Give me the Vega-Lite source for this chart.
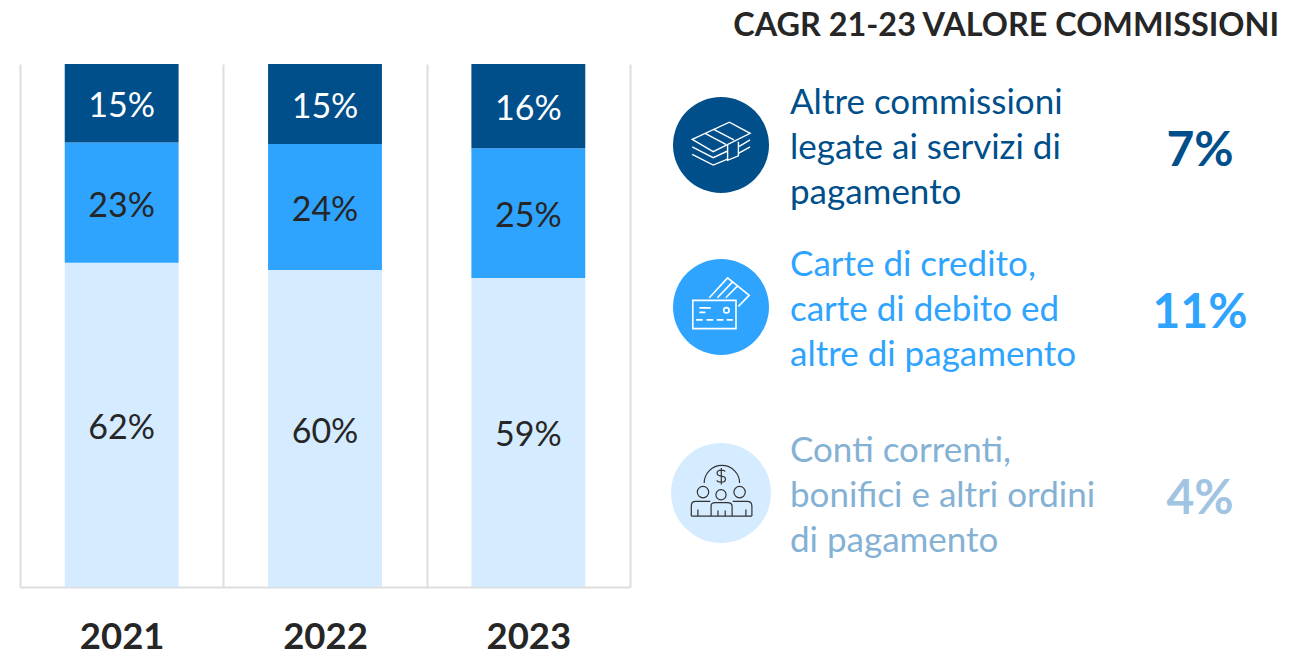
{
"$schema":"https://vega.github.io/schema/vega-lite/v6.json",
"padding":{"left":20,"top":9,"right":0,"bottom":0},
"background":"white",
"config":{"view":{"stroke":null},"font":"Lato"},
"spacing":20,
"bounds":"flush",
"hconcat":[
{"width":610,"height":523,
"data":{"values":[
{"anno":"2021","serie":"Conti correnti","quota":62,"etichetta":"62%","ordine":1},
{"anno":"2021","serie":"Carte","quota":23,"etichetta":"23%","ordine":2},
{"anno":"2021","serie":"Altre commissioni","quota":15,"etichetta":"15%","ordine":3},
{"anno":"2022","serie":"Conti correnti","quota":60.6,"etichetta":"60%","ordine":1},
{"anno":"2022","serie":"Carte","quota":24.1,"etichetta":"24%","ordine":2},
{"anno":"2022","serie":"Altre commissioni","quota":15.3,"etichetta":"15%","ordine":3},
{"anno":"2023","serie":"Conti correnti","quota":59.1,"etichetta":"59%","ordine":1},
{"anno":"2023","serie":"Carte","quota":24.8,"etichetta":"25%","ordine":2},
{"anno":"2023","serie":"Altre commissioni","quota":16.1,"etichetta":"16%","ordine":3}
]},
"encoding":{
"x":{"field":"anno","type":"nominal","scale":{"paddingInner":0,"paddingOuter":0},
"axis":{"title":null,"labelAngle":0,"labelFont":"Lato","labelFontSize":36.5,"labelFontWeight":"bold","labelColor":"#262626","labelPadding":32,"ticks":false,"grid":true,"gridColor":"#dedede","gridWidth":2,"tickBand":"extent","domainColor":"#dedede","domainWidth":2}}
},
"layer":[
{"mark":{"type":"bar","width":{"band":0.56}},
"encoding":{
"y":{"field":"quota","type":"quantitative","stack":"zero","scale":{"domain":[0,100],"nice":false},"axis":null},
"order":{"field":"ordine"},
"color":{"field":"serie","type":"nominal","legend":null,"scale":{"domain":["Conti correnti","Carte","Altre commissioni"],"range":["#d5ebff","#2fa4ff","#004f8a"]}}
}},
{"mark":{"type":"text","fontSize":34,"font":"Lato","dy":4},
"encoding":{
"y":{"field":"quota","type":"quantitative","stack":"zero","bandPosition":0.5},
"order":{"field":"ordine"},
"text":{"field":"etichetta"},
"color":{"condition":{"test":"datum.serie==='Altre commissioni'","value":"#ffffff"},"value":"#262626"}
}}
]},
{"width":629,"height":523,
"title":{"text":"CAGR 21-23 VALORE COMMISSIONI","anchor":"end","font":"Lato","fontSize":32.4,"fontWeight":"bold","color":"#262626","offset":22},
"data":{"values":[
{"riga":1,"serie":"Altre commissioni","descrizione":"Altre commissioni\nlegate ai servizi di\npagamento","cagr":"7%"},
{"riga":2,"serie":"Carte","descrizione":"Carte di credito,\ncarte di debito ed\naltre di pagamento","cagr":"11%"},
{"riga":3,"serie":"Conti correnti","descrizione":"Conti correnti,\nbonifici e altri ordini\ndi pagamento","cagr":"4%"}
]},
"encoding":{
"y":{"field":"riga","type":"quantitative","axis":null,"scale":{"domain":[1,2,3],"range":[81,243,429]}}
},
"layer":[
{"mark":{"type":"circle","opacity":1},
"encoding":{
"x":{"datum":1,"type":"quantitative","axis":null,"scale":{"domain":[1,2,3],"range":[71,140,550]}},
"size":{"condition":{"test":"datum.riga===3","value":10000},"value":9216},
"color":{"field":"serie","type":"nominal","legend":null,"scale":{"domain":["Conti correnti","Carte","Altre commissioni"],"range":["#d5ebff","#2fa4ff","#004f8a"]}}
}},
{"transform":[{"filter":"datum.riga===1"}],
"mark":{"type":"point","filled":false,"opacity":1,"size":3600,"stroke":"#ffffff","strokeWidth":1.4,
"shape":"M-.96 -.19L.28 -.76L.97 -.39L-.26 .22ZM-.53 -.39L.16 -.02M-.26 -.53L.43 -.17M.22 0L.22 .51L.58 .36L.58 -.11M-.96 .06L-.26 .42L.22 .2M.58 .06L.97 -.17M-.96 .31L-.26 .67L.22 .47M.58 .28L.97 .06"},
"encoding":{"x":{"datum":1,"type":"quantitative"}}},
{"transform":[{"filter":"datum.riga===2"}],
"mark":{"type":"point","filled":false,"opacity":1,"size":3600,"stroke":"#ffffff","strokeWidth":1.6,
"shape":"M-.94 -.22L.5 -.22L.5 .72L-.94 .72ZM-.72 .03L-.34 .03M-.72 .18L-.52 .18M.27 .11A.09 .09 0 1 0 .09 .11A.09 .09 0 1 0 .27 .11M-.83 .43L-.61 .43M-.48 .43L-.26 .43M-.14 .43L.08 .43M.19 .43L.39 .43M-.39 -.31L.22 -.97L.94 -.39L.58 -.02M-.12 -.31L.38 -.83M.16 -.31L.57 -.72"},
"encoding":{"x":{"datum":1,"type":"quantitative"}}},
{"transform":[{"filter":"datum.riga===3"}],
"mark":{"type":"point","filled":false,"opacity":1,"size":3600,"stroke":"#333333","strokeWidth":1.2,
"shape":"M-.56 -.33A.59 .59 0 1 1 .62 -.33M-.79 -.03A.19 .19 0 1 0 -.41 -.03A.19 .19 0 1 0 -.79 -.03M-.17 .06A.17 .17 0 1 0 .17 .06A.17 .17 0 1 0 -.17 .06M.43 -.03A.19 .19 0 1 0 .81 -.03A.19 .19 0 1 0 .43 -.03M-.99 .77L-.99 .44Q-.99 .28 -.85 .28L-.36 .28M-.33 .77L-.33 .42Q-.33 .32 -.19 .32L.2 .32Q.37 .32 .37 .44L.37 .77M.39 .28L.87 .28Q1.03 .28 1.03 .44L1.03 .77M-.99 .77L1.03 .77M-.77 .55L-.77 .77M-.1 .58L-.1 .77M.14 .58L.14 .77M.83 .55L.83 .77M.01 -.83L.01 -.28M.14 -.72Q.12 -.76 .01 -.76Q-.13 -.76 -.13 -.66Q-.13 -.58 .01 -.56Q.15 -.54 .15 -.46Q.15 -.36 .01 -.36Q-.12 -.36 -.14 -.42"},
"encoding":{"x":{"datum":1,"type":"quantitative"}}},
{"mark":{"type":"text","align":"left","baseline":"middle","font":"Lato","fontSize":35,"lineBreak":"\n","lineHeight":45,"dy":-42},
"encoding":{
"x":{"datum":2,"type":"quantitative"},
"text":{"field":"descrizione"},
"color":{"field":"serie","type":"nominal","legend":null,"scale":{"domain":["Conti correnti","Carte","Altre commissioni"],"range":["#84b1d4","#2fa4ff","#004f8a"]}}
}},
{"mark":{"type":"text","align":"center","baseline":"middle","font":"Lato","fontSize":48,"fontWeight":"bold","dy":7},
"encoding":{
"x":{"datum":3,"type":"quantitative"},
"text":{"field":"cagr"},
"color":{"field":"serie","type":"nominal","legend":null,"scale":{"domain":["Conti correnti","Carte","Altre commissioni"],"range":["#a0c4e2","#2fa4ff","#004f8a"]}}
}}
],
"resolve":{"scale":{"color":"independent"}}
}
]
}
